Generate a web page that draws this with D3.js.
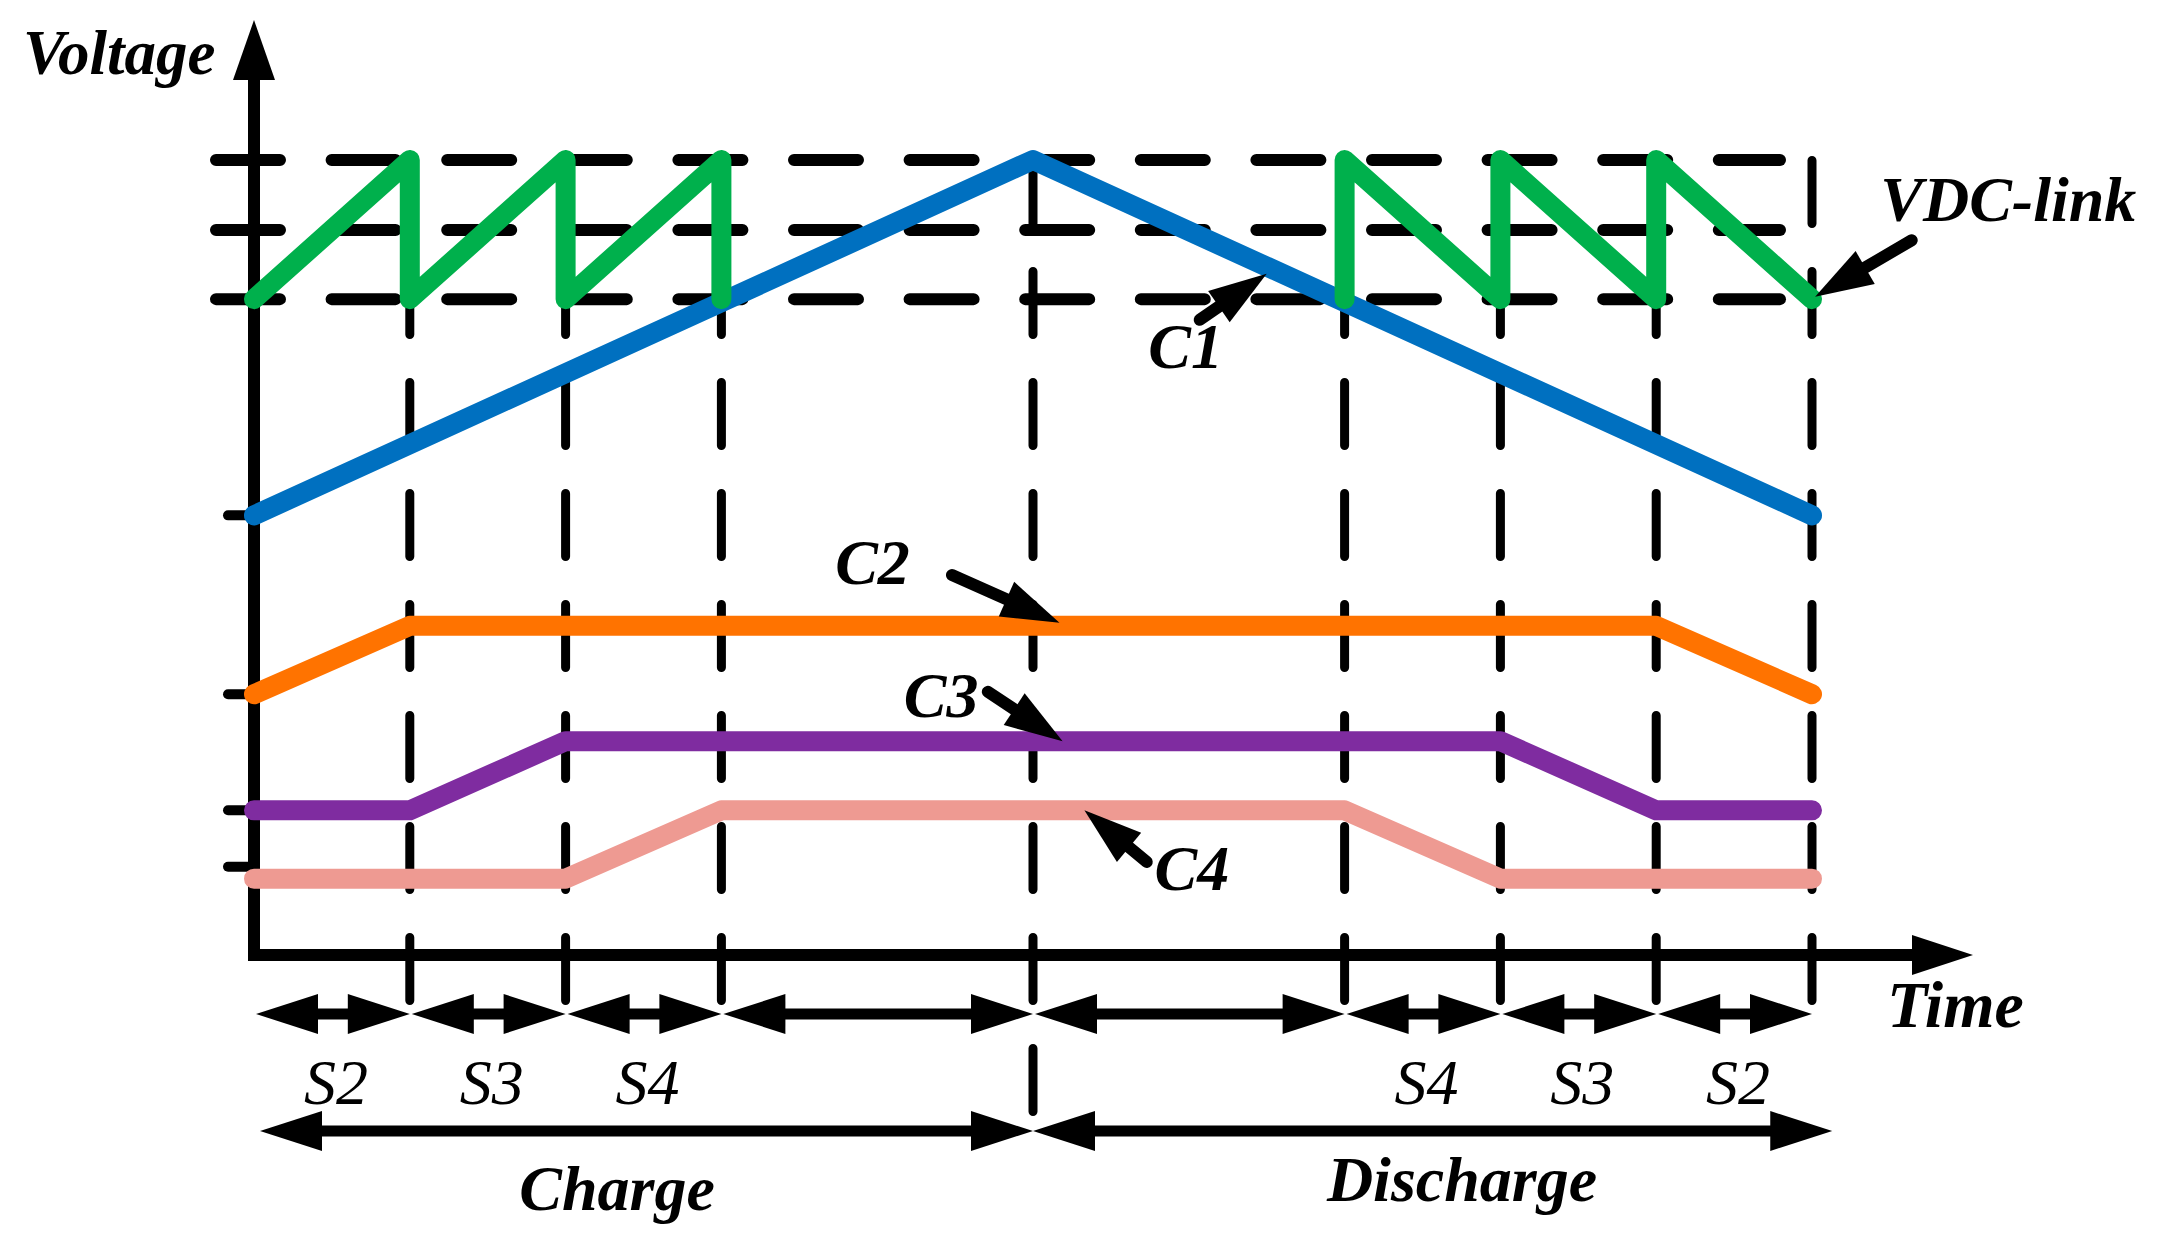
<!DOCTYPE html>
<html>
<head>
<meta charset="utf-8">
<script src="https://cdn.jsdelivr.net/npm/d3@7"></script>
<style>
  body { margin: 0; background: #fff; }
  text { font-family: "Liberation Serif", "Times New Roman", serif; font-style: italic; }
</style>
</head>
<body>
<div id="chart"></div>
<script>
// time marks (switching instants) and voltage levels
const bounds = [0, 1, 2, 3, 5, 7, 8, 9, 10];
const dcLevels = [100, 91.2, 82.5];
const yTicks = [55.3, 32.8, 18.2, 11.1];

// capacitor voltages
const c1T = [0, 5, 10];
const c1V = [55.3, 100, 55.3];
const c2T = [0, 1, 9, 10];
const c2V = [32.8, 41.4, 41.4, 32.8];
const c3T = [0, 1, 2, 8, 9, 10];
const c3V = [18.2, 18.2, 26.9, 26.9, 18.2, 18.2];
const c4T = [0, 2, 3, 7, 8, 10];
const c4V = [9.6, 9.6, 18.2, 18.2, 9.6, 9.6];
// DC-link sawtooth, charge side and discharge side
const dcChargeT = [0, 1, 1, 2, 2, 3, 3];
const dcChargeV = [82.5, 100, 82.5, 100, 82.5, 100, 82.5];
const dcDischargeT = [7, 7, 8, 8, 9, 9, 10];
const dcDischargeV = [82.5, 100, 82.5, 100, 82.5, 100, 82.5];

const stepLabels = ["S2", "S3", "S4", "", "", "S4", "S3", "S2"];
const phaseBounds = [0, 5, 10.13];
const phaseLabels = ["Charge", "Discharge"];

const width = 2157, height = 1248;

const svg = d3.select("#chart").append("svg")
    .attr("width", width)
    .attr("height", height);

const x = d3.scaleLinear().domain([0, 10]).range([254, 1812]);
const y = d3.scaleLinear().domain([0, 100]).range([955, 160]);

const zip = (ts, vs) => ts.map((t, i) => [t, vs[i]]);
const line = d3.line().x(d => x(d[0])).y(d => y(d[1]));

// horizontal dashed levels
svg.selectAll(".level")
    .data(dcLevels)
    .enter().append("line")
    .attr("x1", 216).attr("x2", 1780)
    .attr("y1", d => y(d)).attr("y2", d => y(d))
    .attr("stroke", "#000")
    .attr("stroke-width", 12)
    .attr("stroke-linecap", "round")
    .attr("stroke-dasharray", "64 51.6");

// vertical dashed lines at every switching instant
svg.selectAll(".vline")
    .data(bounds.slice(1))
    .enter().append("line")
    .attr("x1", d => x(d)).attr("x2", d => x(d))
    .attr("y1", 160.5)
    .attr("y2", d => d === 5 ? 1112 : 1001)
    .attr("stroke", "#000")
    .attr("stroke-width", 9)
    .attr("stroke-linecap", "round")
    .attr("stroke-dasharray", "63 48");

// axes
svg.append("line")
    .attr("x1", x(0)).attr("x2", x(0))
    .attr("y1", 955).attr("y2", 76)
    .attr("stroke", "#000").attr("stroke-width", 12);
svg.append("path")
    .attr("d", `M${x(0)},20 L${x(0) - 21},80 L${x(0) + 21},80 Z`)
    .attr("fill", "#000");
svg.append("line")
    .attr("x1", x(0) - 6).attr("x2", 1916)
    .attr("y1", 955).attr("y2", 955)
    .attr("stroke", "#000").attr("stroke-width", 12);
svg.append("path")
    .attr("d", `M1973,955 L1912,935 L1912,975 Z`)
    .attr("fill", "#000");

svg.selectAll(".tick")
    .data(yTicks)
    .enter().append("line")
    .attr("x1", x(0) - 26).attr("x2", x(0))
    .attr("y1", d => y(d)).attr("y2", d => y(d))
    .attr("stroke", "#000").attr("stroke-width", 10)
    .attr("stroke-linecap", "round");

// series
const series = [
    { pts: zip(c4T, c4V), color: "#EE9A92" },
    { pts: zip(c3T, c3V), color: "#7F2CA0" },
    { pts: zip(c2T, c2V), color: "#FF7300" },
    { pts: zip(c1T, c1V), color: "#0070C0" },
    { pts: zip(dcChargeT, dcChargeV), color: "#00B04C" },
    { pts: zip(dcDischargeT, dcDischargeV), color: "#00B04C" }
];

svg.selectAll(".series")
    .data(series)
    .enter().append("path")
    .attr("d", d => line(d.pts))
    .attr("fill", "none")
    .attr("stroke", d => d.color)
    .attr("stroke-width", 20)
    .attr("stroke-linecap", "round")
    .attr("stroke-linejoin", "round");

// arrow helpers
function head(tipX, tipY, fromX, fromY, len, half) {
    const a = Math.atan2(tipY - fromY, tipX - fromX);
    const bx = tipX - len * Math.cos(a), by = tipY - len * Math.sin(a);
    const px = -Math.sin(a) * half, py = Math.cos(a) * half;
    return `M${tipX},${tipY} L${bx + px},${by + py} L${bx - px},${by - py} Z`;
}

function pointer(tail, tip) {
    const x1 = x(tail[0]), y1 = y(tail[1]), x2 = x(tip[0]), y2 = y(tip[1]);
    const a = Math.atan2(y2 - y1, x2 - x1);
    svg.append("line")
        .attr("x1", x1).attr("y1", y1)
        .attr("x2", x2 - 50 * Math.cos(a)).attr("y2", y2 - 50 * Math.sin(a))
        .attr("stroke", "#000").attr("stroke-width", 12)
        .attr("stroke-linecap", "round");
    svg.append("path").attr("d", head(x2, y2, x1, y1, 58, 19)).attr("fill", "#000");
}

function doubleArrow(xa, xb, yy) {
    svg.append("line")
        .attr("x1", xa + 50).attr("x2", xb - 50)
        .attr("y1", yy).attr("y2", yy)
        .attr("stroke", "#000").attr("stroke-width", 11);
    svg.append("path").attr("d", head(xa, yy, xb, yy, 62, 20)).attr("fill", "#000");
    svg.append("path").attr("d", head(xb, yy, xa, yy, 62, 20)).attr("fill", "#000");
}

// step arrows
for (let i = 0; i < bounds.length - 1; i++) {
    doubleArrow(x(bounds[i]) + 2, x(bounds[i + 1]), 1014);
}
svg.selectAll(".step")
    .data(stepLabels)
    .enter().append("text")
    .attr("x", (d, i) => (x(bounds[i]) + x(bounds[i + 1])) / 2 + 4)
    .attr("y", 1104)
    .attr("text-anchor", "middle")
    .attr("font-size", 64)
    .text(d => d);

// charge / discharge arrows
for (let i = 0; i < phaseBounds.length - 1; i++) {
    doubleArrow(x(phaseBounds[i]) + (i === 0 ? 6 : 0), x(phaseBounds[i + 1]), 1131);
}
svg.selectAll(".phase")
    .data(phaseLabels)
    .enter().append("text")
    .attr("x", (d, i) => i === 0 ? 617 : 1462)
    .attr("y", (d, i) => i === 0 ? 1210 : 1201)
    .attr("text-anchor", "middle")
    .attr("font-size", 64)
    .attr("font-weight", "bold")
    .text(d => d);

// series annotations: label position, arrow tail, arrow tip (in data units)
const notes = [
    { text: "C1", at: [5.98, 73.8], tail: [6.07, 79.9], tip: [6.50, 85.7] },
    { text: "C2", at: [3.97, 46.7], tail: [4.48, 47.8], tip: [5.17, 41.8] },
    { text: "C3", at: [4.41, 29.9], tail: [4.71, 33.1], tip: [5.19, 26.9] },
    { text: "C4", at: [6.02, 8.2], tail: [5.73, 11.7], tip: [5.33, 18.2] },
    { text: "VDC-link", at: [11.26, 92.3], tail: [10.64, 89.9], tip: [10.02, 82.8] }
];

notes.forEach(n => {
    pointer(n.tail, n.tip);
    svg.append("text")
        .attr("x", x(n.at[0])).attr("y", y(n.at[1]))
        .attr("text-anchor", "middle")
        .attr("font-size", 64)
        .attr("font-weight", "bold")
        .text(n.text);
});

// axis titles
svg.append("text")
    .attr("x", 23).attr("y", 74)
    .attr("font-size", 63).attr("font-weight", "bold")
    .text("Voltage");
svg.append("text")
    .attr("x", 1887).attr("y", 1027)
    .attr("font-size", 66).attr("font-weight", "bold")
    .text("Time");
</script>
</body>
</html>
